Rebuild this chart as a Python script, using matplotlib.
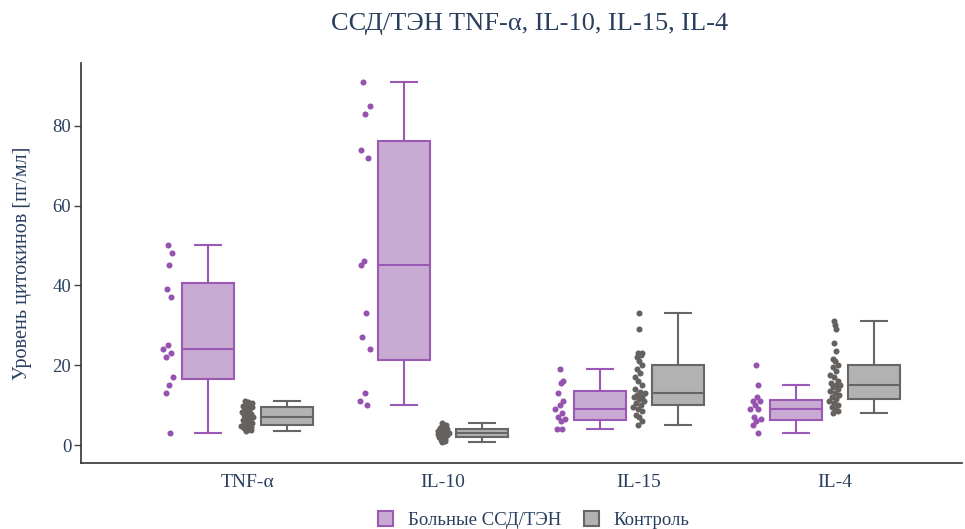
import numpy as np
import matplotlib
matplotlib.use("Agg")
import matplotlib.pyplot as plt
from matplotlib.patches import Patch

plt.rcParams['font.family'] = ['Liberation Serif', 'DejaVu Serif']

categories = ["TNF-α", "IL-10", "IL-15", "IL-4"]
group_names = ["Больные ССД/ТЭН", "Контроль"]

# patients (ССД/ТЭН)
patients_tnf = [50, 48, 45, 39, 37, 25, 24, 23, 22, 17, 15, 13, 3]
patients_il10 = [91, 85, 83, 74, 72, 46, 45, 33, 27, 24, 13, 11, 10]
patients_il15 = [19, 16, 15.5, 13, 11, 10, 9, 8, 7, 6.5, 6, 4, 4]
patients_il4 = [20, 15, 12, 11, 11, 10, 9, 9, 7, 6.5, 6, 5, 3]

# control group
control_tnf = [3.5, 3.8, 4, 4.2, 4.5, 4.7, 4.8, 5, 5.3, 5.6, 6, 6.3, 6.6, 6.8, 7,
               7.2, 7.5, 7.8, 8, 8.3, 8.6, 9, 9.4, 9.6, 9.8, 10, 10.2, 10.5, 10.8, 11]
control_il10 = [0.7, 0.9, 1.1, 1.3, 1.5, 1.7, 1.9, 2.1, 2.3, 2.4, 2.6, 2.7, 2.8, 2.9, 3.0,
                3.0, 3.1, 3.2, 3.3, 3.5, 3.6, 3.8, 3.9, 4.1, 4.3, 4.5, 4.7, 4.9, 5.1, 5.4]
control_il15 = [5, 6, 7, 7.5, 8.5, 9, 9.5, 10, 10.5, 11, 11.5, 12, 12, 12.5, 13,
                13.2, 14, 15, 16, 17, 18, 19, 20, 21, 22, 22.5, 23, 23, 29, 33]
control_il4 = [8, 8.5, 9, 9.5, 10, 10.5, 11, 11.5, 12, 12.5, 13, 13.5, 14, 14.5, 15,
               15, 15.5, 16, 17, 17.5, 18.5, 19.5, 20, 21, 21.5, 23.5, 25.5, 29, 30, 31]

patients = [patients_tnf, patients_il10, patients_il15, patients_il4]
control = [control_tnf, control_il10, control_il15, control_il4]

line_colors = ["#9B59B6", "#666666"]
point_colors = ["#9552AE", "#65615F"]
fill_colors = ["#C9AAD2", "#B2B2B2"]
text_color = "#2a3f5f"


def box_stats(values):
    v = np.sort(np.asarray(values, dtype=float))
    q1, med, q3 = np.percentile(v, [25, 50, 75], method="hazen")
    iqr = q3 - q1
    lo = v[v >= q1 - 1.5 * iqr].min()
    hi = v[v <= q3 + 1.5 * iqr].max()
    return dict(med=med, q1=q1, q3=q3, whislo=lo, whishi=hi, fliers=[])


def jitter_offsets(values, half_width):
    v = np.asarray(values, dtype=float)
    span = max(v.max() - v.min(), 1e-9)
    bw = span / 8
    dens = np.array([np.sum(np.exp(-0.5 * ((v - x) / bw) ** 2)) for x in v])
    dens = dens / dens.max()
    k = np.arange(len(v))
    seq = (k * 0.6180339887 + 0.31) % 1.0
    return (seq - 0.5) * 2 * half_width * dens


fig = plt.figure(figsize=(9.65, 5.29), dpi=100)
ax = fig.add_axes([0.0839, 0.1248, 0.913, 0.7561])

box_w = 0.266
offset = 0.2
for g, groups in enumerate([patients, control]):
    shift = -offset if g == 0 else offset
    stats = [box_stats(d) for d in groups]
    pos = [i + shift for i in range(len(categories))]
    ax.bxp(stats, positions=pos, widths=box_w, patch_artist=True,
           showfliers=False,
           boxprops=dict(facecolor=fill_colors[g], edgecolor=line_colors[g], linewidth=1.5),
           medianprops=dict(color=line_colors[g], linewidth=1.5),
           whiskerprops=dict(color=line_colors[g], linewidth=1.5),
           capprops=dict(color=line_colors[g], linewidth=1.5),
           capwidths=box_w / 2, zorder=2)
    for i, d in enumerate(groups):
        xs = pos[i] - offset + jitter_offsets(d, 0.032)
        ax.scatter(xs, d, s=19, color=point_colors[g], linewidths=0, zorder=3)

ax.set_xlim(-0.85, 3.65)
ax.set_ylim(-4.5, 95.7)
ax.set_xticks(range(len(categories)))
ax.set_xticklabels(categories)
ax.set_yticks([0, 20, 40, 60, 80])
ax.tick_params(axis='x', length=0, pad=8, labelsize=14, labelcolor=text_color)
ax.tick_params(axis='y', length=5, width=1, color="#444444", pad=2,
               labelsize=13.5, labelcolor=text_color)
for side in ["top", "right"]:
    ax.spines[side].set_visible(False)
for side in ["left", "bottom"]:
    ax.spines[side].set_color("#333333")
    ax.spines[side].set_linewidth(1.2)

ax.set_ylabel("Уровень цитокинов [пг/мл]", fontsize=14.5, color=text_color)
ax.yaxis.set_label_coords(-0.056, 0.5)
fig.text(0.549, 0.955, "ССД/ТЭН TNF-α, IL-10, IL-15, IL-4", ha="center", va="center",
         fontsize=19, color=text_color)

handles = [Patch(facecolor=fill_colors[g], edgecolor=line_colors[g], linewidth=1.5,
                 label=group_names[g]) for g in range(2)]
fig.legend(handles=handles, loc="center", bbox_to_anchor=(0.553, 0.017), ncol=2,
           frameon=False, fontsize=13.5, labelcolor=text_color,
           handlelength=0.8, handleheight=0.8, handletextpad=0.8, columnspacing=1.2)

fig.savefig("out.png", dpi=100)
